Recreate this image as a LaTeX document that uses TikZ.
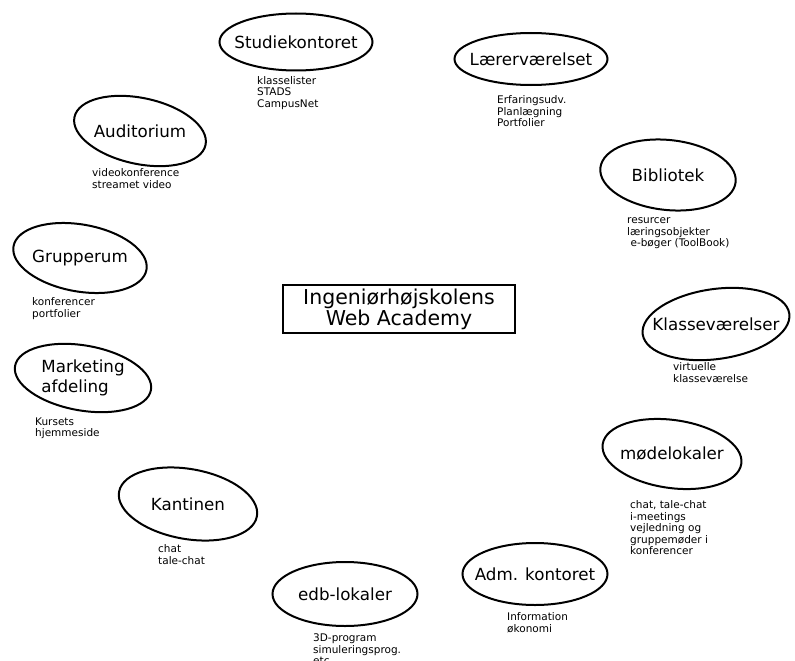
\documentclass[tikz,border=0pt]{standalone}
\usepackage{fontspec}
\setmainfont{DejaVu Sans}
\usetikzlibrary{shapes.geometric}

\begin{document}
\begin{tikzpicture}[x=1pt,y=-1pt,
    room/.style={draw,ellipse,line width=2pt,inner sep=0pt},
    info/.style={anchor=north west,inner sep=0pt,align=left,font=\fontsize{10.5}{11.5}\selectfont},
    every label/.style={font=\fontsize{16.7}{20}\selectfont,align=left}]
    \useasboundingbox (0,0) rectangle (795,661);
    % centre box
    \node[draw,line width=1.5pt,minimum width=232pt,minimum height=48pt,inner sep=0pt,
      align=center,font=\fontsize{20.5}{21}\selectfont] (hub) at (399,309) {Ingeniørhøjskolens\\Web Academy};
    % the rooms
    \node[room,minimum width=153pt,minimum height=57pt,label=center:Studiekontoret] (studie) at (296,42) {};
    \node[room,minimum width=153pt,minimum height=52pt,label=center:Lærerværelset] (laerer) at (531,59) {};
    \node[room,minimum width=134pt,minimum height=66pt,rotate=-12,label=center:Auditorium] (audi) at (140,131) {};
    \node[room,minimum width=136pt,minimum height=70pt,rotate=-6,label=center:Bibliotek] (bib) at (668,175) {};
    \node[room,minimum width=135pt,minimum height=67pt,rotate=-10,label=center:Grupperum] (grp) at (80,258) {};
    \node[room,minimum width=148pt,minimum height=70pt,rotate=8,label=center:Klasseværelser] (klasse) at (716,324) {};
    \node[room,minimum width=138pt,minimum height=65pt,rotate=-10,label={center:Marketing\\afdeling}] (mark) at (83,378) {};
    \node[room,minimum width=140pt,minimum height=68pt,rotate=-8,label=center:mødelokaler] (mode) at (672,454) {};
    \node[room,minimum width=140pt,minimum height=70pt,rotate=-10,label=center:Kantinen] (kant) at (188,504) {};
    \node[room,minimum width=145pt,minimum height=62pt,label=center:Adm. kontoret] (adm) at (535,574) {};
    \node[room,minimum width=145pt,minimum height=64pt,label=center:edb-lokaler] (edb) at (345,594) {};
    % what each room holds
    \node[info] (studieinfo) at (257,76) {klasselister\\STADS\\CampusNet};
    \node[info] (laererinfo) at (497,95.5) {Erfaringsudv.\\Planlægning\\Portfolier};
    \node[info] (audiinfo) at (92,168.5) {videokonference\\streamet video};
    \node[info] (bibinfo) at (627,217.5) {resurcer\\læringsobjekter\\\ e-bøger (ToolBook)};
    \node[info] (grpinfo) at (32,297.5) {konferencer\\portfolier};
    \node[info] (klasseinfo) at (673,362.5) {virtuelle\\klasseværelse};
    \node[info] (markinfo) at (35,417.5) {Kursets\\hjemmeside};
    \node[info] (modeinfo) at (630,500.5) {chat, tale-chat\\i-meetings\\vejledning og\\gruppemøder i\\konferencer};
    \node[info] (kantinfo) at (158,544.5) {chat\\tale-chat};
    \node[info] (adminfo) at (507,612.5) {Information\\økonomi};
    \node[info] (edbinfo) at (313,633.5) {3D-program\\simuleringsprog.\\etc.};
\end{tikzpicture}
\end{document}
